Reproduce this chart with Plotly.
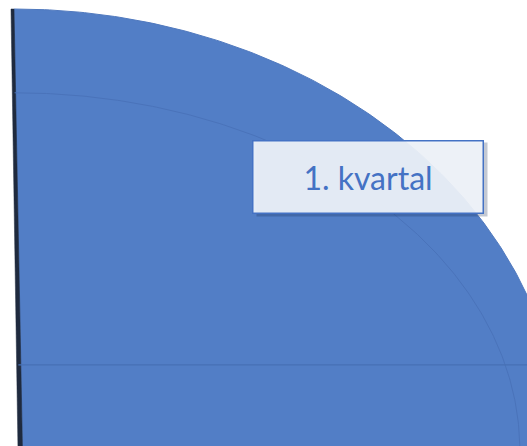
import numpy as np
import plotly.graph_objects as go

# Data (Excel default sample: quarterly sales)
categories = ["1. kvartal", "2. kvartal", "3. kvartal", "4. kvartal"]
values = [8.2, 3.2, 1.4, 1.2]
slice_colors = ["#527ec6", "#ed7d31", "#a5a5a5", "#ffc000"]

total = sum(values)
frac0 = values[0] / total
start_deg = 90.0
end_deg = start_deg - frac0 * 360.0

t = np.radians(np.linspace(start_deg, end_deg, 400))
cx_bottom = 0.0155  # slight perspective tilt of the starting edge
wx = np.concatenate([np.cos(t), [cx_bottom, 0.0]])
wy = np.concatenate([np.sin(t), [0.0, 1.0]])

fig = go.Figure()

# slice 1 top face
fig.add_trace(go.Scatter(x=wx, y=wy, mode="lines", fill="toself",
                         fillcolor=slice_colors[0], line=dict(color="#5079be", width=1),
                         hoverinfo="skip", showlegend=False, name=categories[0]))

# 3D side wall along start edge
fig.add_trace(go.Scatter(x=[-0.0055, 0.0, cx_bottom, 0.0073, -0.0055],
                         y=[1.0, 1.0, 0.0, 0.0, 1.0], mode="lines", fill="toself",
                         fillcolor="#1f2a3e", line=dict(color="#1f2a3e", width=0.5),
                         hoverinfo="skip", showlegend=False))

# inner depth arc
ti = np.radians(np.linspace(90, 0, 200))
fig.add_trace(go.Scatter(x=0.922 * np.cos(ti) + 0.001, y=0.81 * np.sin(ti),
                         mode="lines", line=dict(color="#4a73ba", width=1),
                         hoverinfo="skip", showlegend=False))
# horizontal edge line
fig.add_trace(go.Scatter(x=[0.008, 1.0], y=[0.193, 0.193], mode="lines",
                         line=dict(color="#4770b4", width=1.3),
                         hoverinfo="skip", showlegend=False))

lx, ly = 0.646, 0.620
# label shadow
fig.add_shape(type="rect", xref="x", yref="y",
              x0=lx - 114.5 / 548 + 3 / 548, x1=lx + 116.5 / 548 + 3 / 548,
              y0=ly - 37 / 441 - 3 / 441, y1=ly + 37 / 441 - 3 / 441,
              fillcolor="rgba(20,40,80,0.25)", line=dict(width=0))
fig.add_annotation(x=lx, y=ly, xref="x", yref="y", text=categories[0], showarrow=False,
                   font=dict(family="Lato", size=32, color="#4472c4"),
                   bgcolor="rgba(240,244,250,0.93)", bordercolor="#4472c4", borderwidth=1.5,
                   borderpad=0, width=229, height=71)

fig.update_layout(width=527, height=446, margin=dict(l=0, r=0, t=0, b=0),
                  paper_bgcolor="white", plot_bgcolor="white",
                  xaxis=dict(range=[-14 / 548, 513 / 548], visible=False, fixedrange=True),
                  yaxis=dict(range=[4 / 441, 450 / 441], visible=False, fixedrange=True))

fig.write_html("out.html", config={"displayModeBar": False},
               post_script="document.body.style.margin='0px';document.body.style.overflow='hidden';")
